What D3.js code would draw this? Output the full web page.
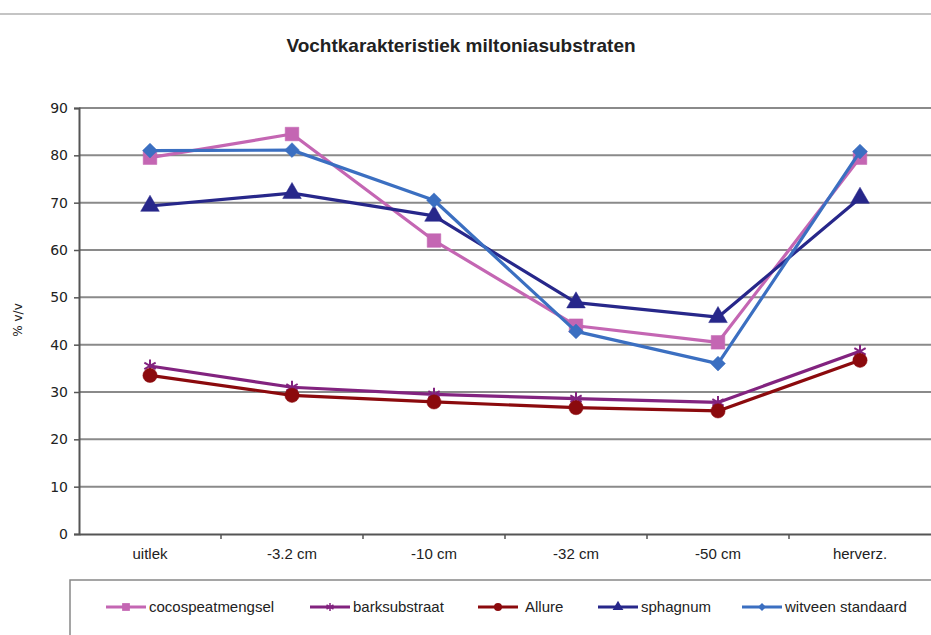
<!DOCTYPE html>
<html>
<head>
<meta charset="utf-8">
<script src="https://cdn.jsdelivr.net/npm/d3@7"></script>
<style>
body { margin: 0; background: #fff; }
.cond { font-family: "Liberation Sans Narrow", "Arial Narrow", "Liberation Sans", sans-serif; }
.num { font-family: "DejaVu Sans", Verdana, sans-serif; }
</style>
</head>
<body>
<script>
// categories and series
var categories = ["uitlek", "-3.2 cm", "-10 cm", "-32 cm", "-50 cm", "herverz."];
var cocospeat = [79.5, 84.5, 62, 44, 40.5, 79.5];
var bark = [35.5, 31, 29.5, 28.6, 27.8, 38.6];
var allure = [33.5, 29.3, 27.9, 26.7, 26, 36.7];
var sphagnum = [69.3, 72, 67.2, 48.9, 45.8, 71];
var witveen = [81, 81.1, 70.5, 42.8, 36, 80.8];
var yTicks = [0, 10, 20, 30, 40, 50, 60, 70, 80, 90];

var series = [
  {name: "cocospeatmengsel", values: cocospeat, color: "#c466b3", marker: "square"},
  {name: "barksubstraat", values: bark, color: "#82237f", marker: "star"},
  {name: "Allure", values: allure, color: "#8b0a0d", marker: "circle"},
  {name: "sphagnum", values: sphagnum, color: "#27278a", marker: "triangle"},
  {name: "witveen standaard", values: witveen, color: "#3b6fc1", marker: "diamond"}
];

var width = 931, height = 635;
var svg = d3.select("body").append("svg")
    .attr("width", width)
    .attr("height", height);

// top rule
svg.append("line").attr("x1", 0).attr("x2", width).attr("y1", 14).attr("y2", 14)
  .attr("stroke", "#b0b0b0").attr("stroke-width", 1.5);

svg.append("text").attr("class", "cond")
  .attr("x", 461).attr("y", 52)
  .attr("text-anchor", "middle")
  .attr("font-size", 19).attr("font-weight", "bold")
  .attr("fill", "#222")
  .text("Vochtkarakteristiek miltoniasubstraten");

var x = d3.scaleBand().domain(categories).range([79, 931]);
var y = d3.scaleLinear().domain([0, 90]).range([534, 108]);

// gridlines
svg.append("g").selectAll("line").data(yTicks.slice(1)).enter().append("line")
  .attr("x1", 79).attr("x2", width)
  .attr("y1", function(d) { return y(d); }).attr("y2", function(d) { return y(d); })
  .attr("stroke", "#8a8a8a").attr("stroke-width", 2);

// y axis
var yAxis = svg.append("g").attr("transform", "translate(79,0)")
  .call(d3.axisLeft(y).tickValues(yTicks).tickSize(5).tickPadding(6));
yAxis.select(".domain").attr("stroke", "#555").attr("stroke-width", 2);
yAxis.selectAll(".tick line").attr("stroke", "#555").attr("stroke-width", 1.5);
yAxis.selectAll("text").attr("class", "num").attr("font-size", 14).attr("fill", "#222");

// x axis
var xAxis = svg.append("g").attr("transform", "translate(0,534)")
  .call(d3.axisBottom(x).tickSize(0).tickPadding(14));
xAxis.select(".domain").attr("stroke", "#555").attr("stroke-width", 2);
xAxis.selectAll("text").attr("class", "cond").attr("font-size", 15).attr("fill", "#222");
// category boundary ticks
xAxis.append("g").selectAll("line").data(categories.slice(1)).enter().append("line")
  .attr("x1", function(d) { return x(d); }).attr("x2", function(d) { return x(d); })
  .attr("y1", 0).attr("y2", 5)
  .attr("stroke", "#555").attr("stroke-width", 1.5);

svg.append("text").attr("class", "num")
  .attr("transform", "translate(22,320) rotate(-90)")
  .attr("text-anchor", "middle").attr("font-size", 12).attr("fill", "#222")
  .text("% v/v");

var symbolFor = {
  square: d3.symbol().type(d3.symbolSquare).size(185),
  star: d3.symbol().type(d3.symbolAsterisk).size(120),
  circle: d3.symbol().type(d3.symbolCircle).size(160),
  triangle: d3.symbol().type(d3.symbolTriangle).size(150),
  diamond: d3.symbol().type(d3.symbolSquare).size(110)
};
// diamond = square turned by 45 degrees
function rot(m) { return m === "diamond" ? " rotate(45)" : ""; }

var line = d3.line()
  .x(function(d, i) { return x(categories[i]) + x.bandwidth() / 2; })
  .y(function(d) { return y(d); });

var plot = svg.append("g");
series.forEach(function(s) {
  var g = plot.append("g");
  g.append("path").attr("d", line(s.values))
    .attr("fill", "none").attr("stroke", s.color).attr("stroke-width", 3.2)
    .attr("stroke-linejoin", "round");
  g.selectAll("path.pt").data(s.values).enter().append("path").attr("class", "pt")
    .attr("transform", function(d, i) {
      return "translate(" + (x(categories[i]) + x.bandwidth() / 2) + "," + y(d) + ")" + rot(s.marker);
    })
    .attr("d", symbolFor[s.marker])
    .attr("fill", s.color)
    .attr("stroke", s.color).attr("stroke-width", s.marker === "star" ? 2 : 0.5);
});

// legend
var legend = svg.append("g");
legend.append("rect").attr("x", 70).attr("y", 580).attr("width", 880).attr("height", 80)
  .attr("fill", "none").attr("stroke", "#888").attr("stroke-width", 1.5);
var legendX = [106, 310, 478, 598, 742];
var smallSym = {
  square: d3.symbol().type(d3.symbolSquare).size(60),
  star: d3.symbol().type(d3.symbolAsterisk).size(45),
  circle: d3.symbol().type(d3.symbolCircle).size(50),
  triangle: d3.symbol().type(d3.symbolTriangle).size(50),
  diamond: d3.symbol().type(d3.symbolSquare).size(32)
};
series.forEach(function(s, i) {
  var lg = legend.append("g").attr("transform", "translate(" + legendX[i] + ",607)");
  lg.append("line").attr("x1", 0).attr("x2", 40).attr("y1", 0).attr("y2", 0)
    .attr("stroke", s.color).attr("stroke-width", 3);
  lg.append("path").attr("transform", "translate(20,0)" + rot(s.marker)).attr("d", smallSym[s.marker])
    .attr("fill", s.color).attr("stroke", s.color).attr("stroke-width", s.marker === "star" ? 1.5 : 0);
  lg.append("text").attr("class", "cond").attr("x", s.name === "Allure" ? 47 : 43).attr("y", 5)
    .attr("font-size", 15).attr("fill", "#222").text(s.name);
});
</script>
</body>
</html>
